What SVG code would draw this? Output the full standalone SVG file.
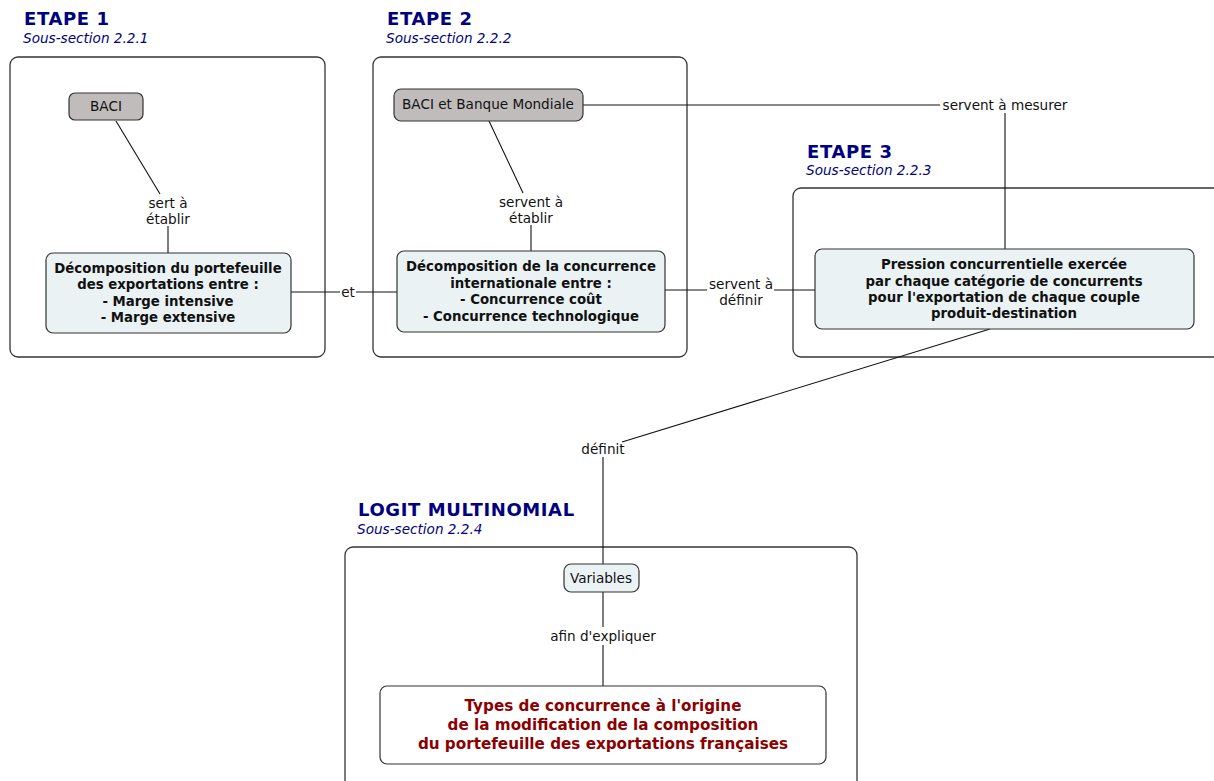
<svg xmlns="http://www.w3.org/2000/svg" width="1214" height="781" viewBox="0 0 1214 781">
<style>
.title{font-family:"DejaVu Sans",Verdana,sans-serif;font-weight:bold;font-size:18px;letter-spacing:0.6px;fill:#000080}
.sub{font-family:"DejaVu Sans",Verdana,sans-serif;font-style:italic;font-size:13.6px;fill:#000080}
.frame{fill:none;stroke:#333;stroke-width:1.3}
.grey{fill:#c0bcbc;stroke:#333;stroke-width:1.2}
.blue{fill:#eaf2f4;stroke:#333;stroke-width:1.2}
.white{fill:#fff;stroke:#333;stroke-width:1.2}
.t{font-family:"DejaVu Sans",Verdana,sans-serif;font-size:13.6px;fill:#111;text-anchor:middle}
.b{font-family:"DejaVu Sans",Verdana,sans-serif;font-size:13.3px;font-weight:bold;fill:#111;text-anchor:middle}
.r{font-family:"DejaVu Sans",Verdana,sans-serif;font-size:15.2px;font-weight:bold;fill:#8b0000;text-anchor:middle}
.lbl{font-family:"DejaVu Sans",Verdana,sans-serif;font-size:13.6px;fill:#111;text-anchor:middle}
.c line,.c polyline{stroke:#111;stroke-width:1.1;fill:none}
</style>
<rect width="1214" height="781" fill="#fff"/>
<g id="frames">
<text class="title" x="24" y="25">ETAPE 1</text>
<text class="sub" x="23" y="43">Sous-section 2.2.1</text>
<rect class="frame" x="10" y="57" width="315" height="300" rx="8"/>
<text class="title" x="387" y="25">ETAPE 2</text>
<text class="sub" x="386" y="43">Sous-section 2.2.2</text>
<rect class="frame" x="373" y="57" width="314" height="300" rx="8"/>
<text class="title" x="807" y="158">ETAPE 3</text>
<text class="sub" x="806" y="175">Sous-section 2.2.3</text>
<rect class="frame" x="793" y="188" width="440" height="169" rx="8"/>
<text class="title" x="358" y="516">LOGIT MULTINOMIAL</text>
<text class="sub" x="357" y="534">Sous-section 2.2.4</text>
<rect class="frame" x="345" y="547" width="512" height="260" rx="8"/>
</g>
<g class="c" id="connectors">
<line x1="116" y1="121" x2="160" y2="194"/>
<line x1="168" y1="226" x2="168" y2="253"/>
<line x1="291" y1="292" x2="340" y2="292"/>
<line x1="356" y1="292" x2="398" y2="292"/>
<line x1="489" y1="121" x2="523" y2="193"/>
<line x1="531" y1="225" x2="531" y2="251"/>
<line x1="665" y1="290" x2="707" y2="290"/>
<line x1="774" y1="290" x2="815" y2="290"/>
<line x1="583" y1="105" x2="940" y2="105"/>
<line x1="1005" y1="113" x2="1005" y2="249"/>
<line x1="990" y1="329" x2="622" y2="442"/>
<line x1="603" y1="457" x2="603" y2="564"/>
<line x1="603" y1="592" x2="603" y2="627"/>
<line x1="603" y1="645" x2="603" y2="686"/>
<text class="lbl" x="168" y="208">sert à</text>
<text class="lbl" x="168" y="224">établir</text>
<text class="lbl" x="348" y="297">et</text>
<text class="lbl" x="531" y="207">servent à</text>
<text class="lbl" x="531" y="223">établir</text>
<text class="lbl" x="741" y="289">servent à</text>
<text class="lbl" x="741" y="305">définir</text>
<text class="lbl" x="1005" y="110">servent à mesurer</text>
<text class="lbl" x="603" y="454">définit</text>
<text class="lbl" x="603" y="641">afin d'expliquer</text>
</g>
<g id="n_baci1">
<rect class="grey" x="69" y="93" width="74" height="27" rx="6"/>
<text class="t" x="106" y="111">BACI</text>
</g>
<g id="n_decomp1">
<rect class="blue" x="46" y="253" width="245" height="80" rx="7"/>
<text class="b" x="168" y="273">Décomposition du portefeuille</text>
<text class="b" x="168" y="289">des exportations entre :</text>
<text class="b" x="168" y="306">- Marge intensive</text>
<text class="b" x="168" y="322">- Marge extensive</text>
</g>
<g id="n_baci2">
<rect class="grey" x="394" y="89" width="189" height="32" rx="7"/>
<text class="t" x="488" y="109">BACI et Banque Mondiale</text>
</g>
<g id="n_decomp2">
<rect class="blue" x="397" y="251" width="268" height="81" rx="7"/>
<text class="b" x="531" y="271">Décomposition de la concurrence</text>
<text class="b" x="531" y="288">internationale entre :</text>
<text class="b" x="531" y="304">- Concurrence coût</text>
<text class="b" x="531" y="321">- Concurrence technologique</text>
</g>
<g id="n_pression">
<rect class="blue" x="815" y="249" width="379" height="80" rx="7"/>
<text class="b" x="1004" y="269">Pression concurrentielle exercée</text>
<text class="b" x="1004" y="286">par chaque catégorie de concurrents</text>
<text class="b" x="1004" y="302">pour l'exportation de chaque couple</text>
<text class="b" x="1004" y="318">produit-destination</text>
</g>
<g id="n_variables">
<rect class="blue" x="564" y="564" width="75" height="28" rx="7"/>
<text class="t" x="601" y="583">Variables</text>
</g>
<g id="n_types">
<rect class="white" x="380" y="686" width="446" height="78" rx="7"/>
<text class="r" x="603" y="711">Types de concurrence à l'origine</text>
<text class="r" x="603" y="730">de la modification de la composition</text>
<text class="r" x="603" y="749">du portefeuille des exportations françaises</text>
</g>
</svg>
